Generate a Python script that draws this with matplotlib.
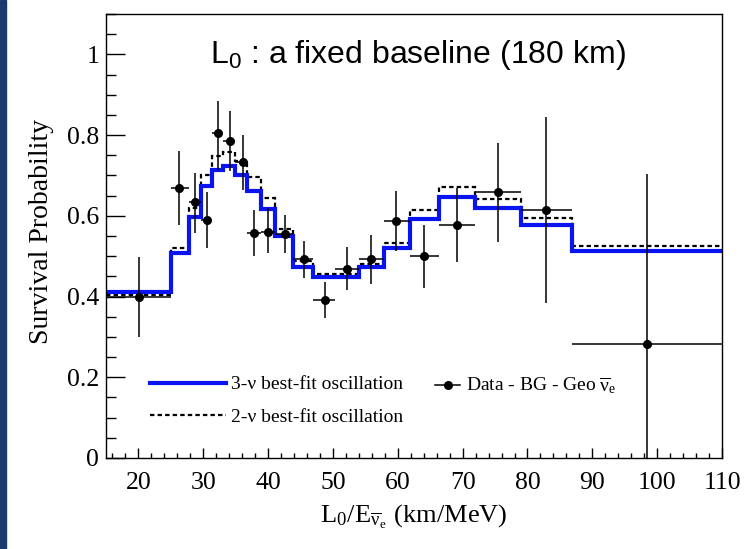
import numpy as np
import matplotlib
matplotlib.use("Agg")
import matplotlib.pyplot as plt
from matplotlib.patches import Rectangle
from matplotlib.lines import Line2D
from matplotlib.ticker import MultipleLocator

plt.rcParams['font.family'] = ['Liberation Serif', 'DejaVu Serif']
plt.rcParams['mathtext.fontset'] = 'stix'
plt.rcParams['mathtext.rm'] = 'Liberation Sans'

# bin edges in L0/E (km/MeV)
edges = [15, 25, 27.8, 29.6, 31.4, 33.1, 34.9, 36.8, 38.9, 41.1, 43.9,
         47.0, 50.3, 54.0, 57.8, 61.9, 66.4, 71.9, 79.0, 86.8, 110]

# 3-nu best fit
p3nu = [0.411, 0.509, 0.598, 0.675, 0.713, 0.723, 0.701, 0.662, 0.617, 0.549,
        0.474, 0.449, 0.449, 0.474, 0.520, 0.592, 0.647, 0.620, 0.577, 0.514]
# 2-nu best fit
p2nu = [0.405, 0.520, 0.619, 0.701, 0.747, 0.757, 0.736, 0.697, 0.645, 0.567,
        0.489, 0.456, 0.456, 0.481, 0.532, 0.614, 0.672, 0.642, 0.595, 0.524]

# data - BG - geo
data_x = [20.1, 26.3, 28.7, 30.5, 32.2, 34.1, 36.1, 37.9, 40.0, 42.6,
          45.5, 48.8, 52.2, 55.8, 59.8, 64.1, 69.1, 75.4, 82.9, 98.5]
data_y = [0.400, 0.670, 0.633, 0.590, 0.805, 0.785, 0.733, 0.558, 0.561, 0.555,
          0.492, 0.391, 0.469, 0.492, 0.588, 0.500, 0.577, 0.658, 0.614, 0.282]
data_hi = [0.499, 0.761, 0.707, 0.660, 0.885, 0.860, 0.800, 0.614, 0.619, 0.602,
           0.538, 0.437, 0.522, 0.553, 0.662, 0.577, 0.668, 0.780, 0.845, 0.704]
data_lo = [0.301, 0.577, 0.558, 0.520, 0.714, 0.712, 0.664, 0.500, 0.507, 0.507,
           0.447, 0.346, 0.416, 0.430, 0.514, 0.422, 0.485, 0.536, 0.385, -0.14]

edges = np.array(edges)
dx = np.array(data_x)
dy = np.array(data_y)
xerr = [dx - edges[:-1], edges[1:] - dx]
yerr = [dy - np.array(data_lo), np.array(data_hi) - dy]

NU = '\u03bd'
nubar = r'\overline{\mathregular{' + NU + r'}}_\mathregular{e}'

fig = plt.figure(figsize=(7.47, 5.49), dpi=100)
fig.patches.append(Rectangle((0, 0), 6 / 747, 1, transform=fig.transFigure,
                             color='#1c3a6c', zorder=-1))
ax = fig.add_axes([106 / 747, 91 / 549, 616 / 747, 444 / 549])

l2 = ax.stairs(p2nu, edges, baseline=None, color='black', lw=1.6,
               linestyle=(0, (2, 1.4)), label='2-' + NU + ' best-fit oscillation')
l3 = ax.stairs(p3nu, edges, baseline=None, color='#0a14f0', lw=3,
               label='3-' + NU + ' best-fit oscillation')
ax.errorbar(dx, dy, xerr=xerr, yerr=yerr, fmt='o', color='black', ms=5.5,
            elinewidth=1.1, capsize=0, zorder=5)
data_handle = Line2D([], [], color='black', lw=1.1, marker='o', ms=5.5,
                     label='Data - BG - Geo $' + nubar + '$')

ax.set_xlim(15, 110)
ax.set_ylim(0, 1.1)
ax.xaxis.set_major_locator(MultipleLocator(10))
ax.xaxis.set_minor_locator(MultipleLocator(2))
ax.yaxis.set_major_locator(MultipleLocator(0.2))
ax.yaxis.set_minor_locator(MultipleLocator(0.05))
ax.yaxis.set_major_formatter(matplotlib.ticker.FuncFormatter(
    lambda v, p: '0' if abs(v) < 1e-9 else ('1' if abs(v - 1) < 1e-9 else '%.1f' % v)))
ax.tick_params(axis='both', which='both', direction='in', top=False, right=False,
               labelsize=18.5, width=1)
ax.tick_params(axis='x', which='major', length=7, pad=10)
ax.tick_params(axis='x', which='minor', length=3.5)
ax.tick_params(axis='y', which='major', length=13.5, pad=5)
ax.tick_params(axis='y', which='minor', length=7)
for s in ax.spines.values():
    s.set_linewidth(1)

ax.set_ylabel('Survival Probability', fontsize=20)
ax.yaxis.set_label_coords(-0.085, 0.51)
ax.set_xlabel(r'L$_\mathregular{0}$/E$_{' + nubar + '}$ (km/MeV)', fontsize=19)
ax.xaxis.set_label_coords(0.5, -0.1)

ax.text(0.507, 0.908, r'L$_\mathrm{0}$ : a fixed baseline (180 km)',
        transform=ax.transAxes, ha='center', va='center', fontsize=23,
        family='Liberation Sans', math_fontfamily='custom')

leg1 = ax.legend(handles=[l3, l2], loc='upper left', bbox_to_anchor=(0.071, 0.185),
                 frameon=False, fontsize=14, handlelength=3.9, handletextpad=0.3,
                 labelspacing=0.75, borderpad=0, borderaxespad=0)
ax.add_artist(leg1)
ax.legend(handles=[data_handle], loc='upper left', bbox_to_anchor=(0.534, 0.185),
          frameon=False, fontsize=14, handlelength=1.3, handletextpad=0.3,
          borderpad=0, borderaxespad=0)

fig.savefig('out.png', dpi=100)
